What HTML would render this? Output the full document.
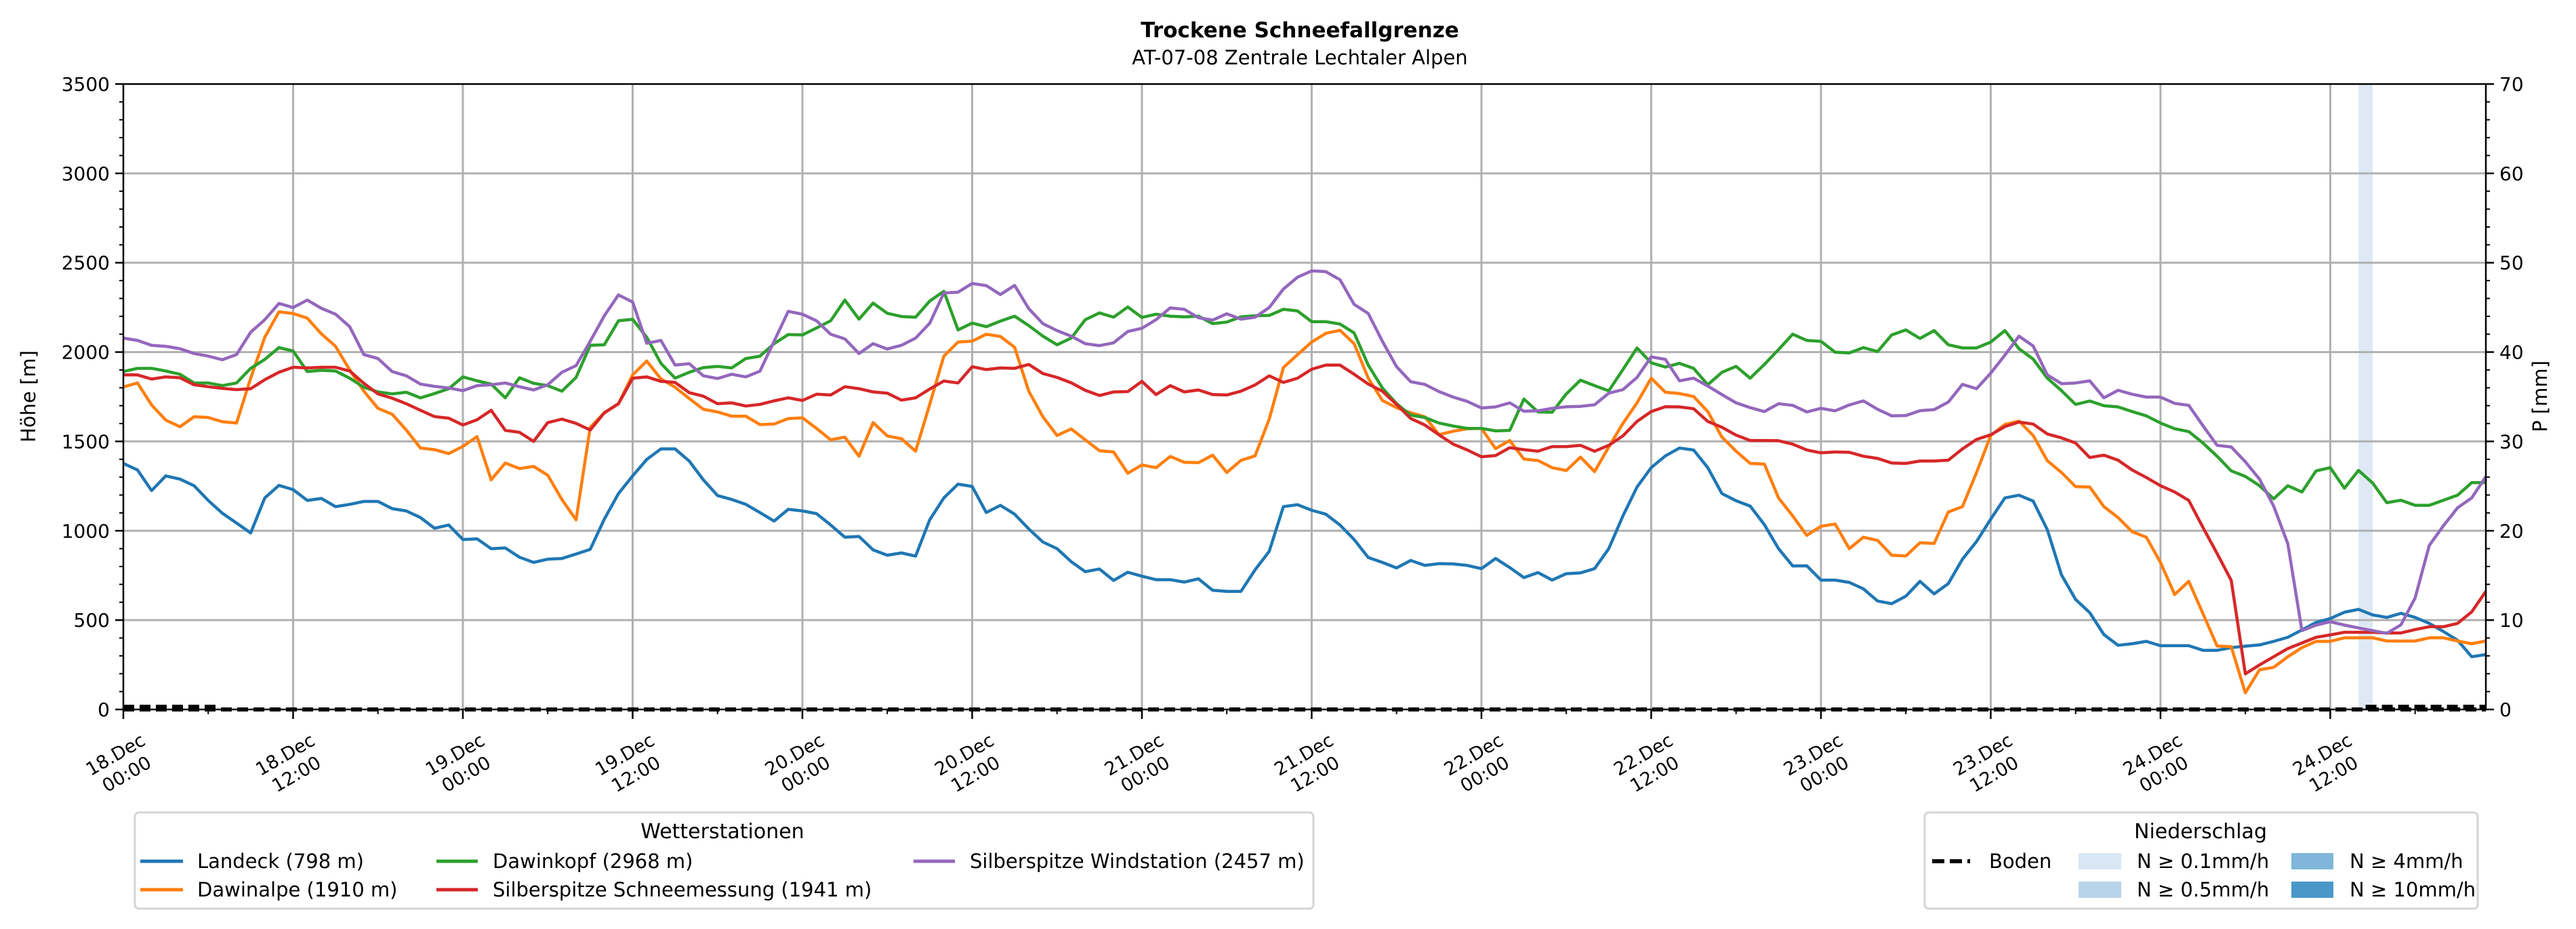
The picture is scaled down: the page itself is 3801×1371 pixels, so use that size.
<!DOCTYPE html>
<html><head><meta charset="utf-8"><style>
html,body{margin:0;padding:0;background:#fff}
svg{display:block;font-family:"DejaVu Sans","Liberation Sans",sans-serif}
</style></head><body>
<svg id="chart" width="3801" height="1371" viewBox="0 0 3801 1371" xmlns="http://www.w3.org/2000/svg">
<rect x="0" y="0" width="3801" height="1371" fill="#fff"/>
<text x="1918" y="55" text-anchor="middle" font-size="31" font-weight="bold">Trockene Schneefallgrenze</text>
<text x="1918" y="95" text-anchor="middle" font-size="29">AT-07-08 Zentrale Lechtaler Alpen</text>
<g id="precip"></g>
<g id="grid"></g>
<g id="series"></g>
<g id="boden"></g>
<g id="axes"></g>
<text transform="translate(52,585) rotate(-90)" text-anchor="middle" font-size="29">Höhe [m]</text>
<text transform="translate(3758,585) rotate(-90)" text-anchor="middle" font-size="29">P [mm]</text>

<g>
<rect x="199" y="1199" width="1739" height="142" rx="6" fill="#fff" stroke="#d5d5d5" stroke-width="3"/>
<text x="1066" y="1237" text-anchor="middle" font-size="30">Wetterstationen</text>
<g><line x1="207" y1="1271" x2="270" y2="1271" stroke="#1f77b4" stroke-width="5"/><text x="291" y="1281" font-size="29">Landeck (798 m)</text></g>
<g><line x1="207" y1="1313" x2="270" y2="1313" stroke="#ff7f0e" stroke-width="5"/><text x="291" y="1323" font-size="29">Dawinalpe (1910 m)</text></g>
<g><line x1="644" y1="1271" x2="705" y2="1271" stroke="#2ca02c" stroke-width="5"/><text x="727" y="1281" font-size="29">Dawinkopf (2968 m)</text></g>
<g><line x1="644" y1="1313" x2="705" y2="1313" stroke="#d62728" stroke-width="5"/><text x="727" y="1323" font-size="29">Silberspitze Schneemessung (1941 m)</text></g>
<g><line x1="1348" y1="1271" x2="1409" y2="1271" stroke="#9467bd" stroke-width="5"/><text x="1431" y="1281" font-size="29">Silberspitze Windstation (2457 m)</text></g>
</g>

<g>
<rect x="2840" y="1199" width="816" height="142" rx="6" fill="#fff" stroke="#d5d5d5" stroke-width="3"/>
<text x="3247" y="1237" text-anchor="middle" font-size="30">Niederschlag</text>
<g><line x1="2851" y1="1271" x2="2907" y2="1271" stroke="#000" stroke-width="6" stroke-dasharray="18,8"/><text x="2935" y="1281" font-size="29">Boden</text></g>
<g><rect x="3067" y="1259" width="63" height="24" fill="#d9e7f5"/><text x="3153" y="1281" font-size="29">N ≥ 0.1mm/h</text></g>
<g><rect x="3067" y="1301" width="63" height="24" fill="#b8d4ea"/><text x="3153" y="1323" font-size="29">N ≥ 0.5mm/h</text></g>
<g><rect x="3381" y="1259" width="62" height="24" fill="#7fb6d9"/><text x="3467" y="1281" font-size="29">N ≥ 4mm/h</text></g>
<g><rect x="3381" y="1301" width="62" height="24" fill="#4a98c9"/><text x="3467" y="1323" font-size="29">N ≥ 10mm/h</text></g>
</g>
</svg>
<script>
const landeck = [1377,1340,1225,1307,1289,1252,1170,1098,1043,988,1184,1254,1230,1170,1181,1135,1148,1164,1164,1124,1111,1074,1014,1032,951,955,900,904,852,823,841,845,870,896,1065,1208,1307,1399,1458,1458,1390,1285,
1197,1175,1148,1102,1054,1120,1111,1096,1032,964,968,893,863,876,858,1061,1184,1261,1248,1102,1142,1093,1010,937,900,827,771,786,722,768,746,726,726,713,731,667,661,661,781,885,1135,1146,
1115,1093,1032,951,850,823,792,834,806,816,814,806,788,845,794,738,766,724,760,764,788,900,1083,1245,1353,1419,1463,1452,1353,1208,1168,1138,1034,900,803,804,724,724,711,675,607,592,
634,717,647,704,841,940,1065,1184,1199,1166,1006,753,616,542,419,359,368,381,357,357,357,331,331,346,354,361,381,404,445,487,509,544,560,529,515,538,515,482,436,387,295,307];
const dawinalpe = [1805,1827,1704,1619,1582,1638,1634,1610,1603,1854,2083,2225,2216,2190,2102,2032,1900,1781,1685,1652,1564,1463,1454,1432,1472,1527,1285,1379,1348,1360,1311,1175,1061,1579,1660,1711,1872,1950,1850,1803,1740,1680,
1665,1641,1641,1594,1597,1628,1632,1573,1509,1524,1417,1605,1531,1515,1445,1707,1977,2056,2061,2100,2087,2027,1781,1638,1533,1570,1509,1448,1441,1322,1368,1353,1416,1383,1381,1423,1326,1394,1419,1625,1913,1986,
2056,2105,2122,2047,1854,1729,1689,1660,1638,1538,1557,1571,1573,1460,1505,1401,1393,1353,1337,1412,1331,1469,1601,1716,1854,1775,1768,1751,1667,1524,1445,1377,1373,1184,1083,974,1025,1038,900,964,946,863,
859,933,929,1105,1135,1326,1533,1595,1614,1533,1392,1326,1247,1245,1135,1074,995,964,823,643,717,537,355,351,93,222,236,295,346,381,381,401,401,401,383,383,383,401,401,383,368,383];
const dawinkopf = [1891,1909,1909,1894,1876,1827,1827,1812,1827,1909,1959,2025,2006,1891,1898,1894,1854,1803,1777,1766,1775,1744,1768,1795,1861,1839,1821,1744,1856,1825,1812,1781,1858,2038,2041,2175,2183,2083,1937,1854,1887,1913,
1920,1911,1964,1977,2047,2098,2096,2135,2175,2291,2184,2274,2217,2199,2195,2285,2340,2124,2162,2142,2173,2201,2148,2089,2041,2078,2181,2219,2195,2252,2194,2212,2201,2197,2201,2159,2168,2197,2203,2205,2239,2230,
2170,2170,2157,2107,1927,1799,1711,1647,1634,1603,1586,1573,1573,1559,1562,1737,1665,1663,1766,1843,1812,1783,1902,2023,1940,1916,1937,1909,1817,1887,1920,1854,1931,2014,2100,2065,2060,1999,1995,2025,2003,2096,
2124,2076,2120,2041,2023,2023,2056,2120,2019,1961,1854,1784,1707,1726,1700,1693,1667,1643,1603,1571,1555,1491,1417,1335,1304,1252,1179,1252,1217,1335,1353,1238,1338,1267,1157,1171,1142,1142,1171,1199,1269,1269];
const schnee = [1872,1872,1849,1861,1856,1817,1806,1797,1790,1795,1845,1887,1915,1911,1915,1915,1894,1825,1766,1742,1711,1674,1639,1630,1592,1621,1674,1562,1551,1500,1605,1625,1601,1564,1660,1711,1854,1861,1836,1830,1773,1753,
1711,1716,1698,1707,1727,1744,1729,1764,1760,1806,1795,1777,1770,1731,1744,1793,1838,1827,1918,1902,1911,1909,1931,1880,1858,1828,1786,1757,1777,1779,1836,1762,1812,1777,1788,1762,1760,1781,1816,1867,1830,1854,
1904,1927,1927,1876,1821,1781,1707,1628,1592,1537,1485,1452,1414,1421,1465,1454,1445,1471,1471,1478,1445,1478,1531,1612,1667,1694,1693,1683,1612,1579,1535,1505,1505,1504,1485,1452,1436,1441,1439,1417,1405,1379,
1377,1390,1390,1395,1458,1511,1537,1583,1608,1597,1542,1520,1491,1410,1423,1395,1340,1298,1252,1217,1170,1019,873,722,199,249,295,341,372,404,417,432,432,432,428,428,447,463,463,482,546,661];
const wind = [2078,2065,2038,2032,2019,1992,1977,1957,1986,2111,2181,2272,2249,2291,2245,2212,2142,1986,1964,1891,1867,1821,1808,1799,1784,1812,1817,1827,1806,1788,1817,1887,1924,2060,2203,2320,2280,2049,2065,1927,1935,1867,
1852,1876,1861,1893,2060,2228,2212,2175,2100,2074,1992,2047,2017,2038,2078,2161,2331,2335,2384,2372,2322,2373,2243,2159,2120,2089,2047,2036,2052,2115,2133,2181,2247,2239,2192,2179,2214,2184,2195,2249,2353,2419,
2454,2450,2405,2267,2216,2060,1918,1834,1819,1779,1748,1724,1687,1693,1716,1669,1671,1685,1694,1696,1705,1770,1790,1858,1973,1959,1839,1854,1810,1762,1716,1689,1667,1711,1702,1665,1685,1671,1704,1727,1680,1643,
1645,1672,1678,1720,1819,1795,1882,1983,2089,2034,1872,1823,1827,1839,1744,1786,1764,1748,1748,1713,1702,1588,1478,1469,1386,1289,1138,927,441,472,491,472,456,441,426,474,624,918,1028,1129,1184,1303];
const precipHours = [158];
const precipValues = [0.2];
const bodenSegments = [[0, 6.7, 0.3], [158.5, 167, 0.3]];
const yTicks = [0,500,1000,1500,2000,2500,3000,3500];
const y2Ticks = [0,10,20,30,40,50,60,70];
const xTickDays = ["18.Dec","18.Dec","19.Dec","19.Dec","20.Dec","20.Dec","21.Dec","21.Dec","22.Dec","22.Dec","23.Dec","23.Dec","24.Dec","24.Dec"];
const xTickTimes = ["00:00","12:00","00:00","12:00","00:00","12:00","00:00","12:00","00:00","12:00","00:00","12:00","00:00","12:00"];

const NS="http://www.w3.org/2000/svg";
const L=182,R=3668,T=124,B=1047,HMAX=167;
const xs=h=>L+(R-L)*h/HMAX;
const ys=v=>B-(B-T)*v/3500;
const yp=p=>B-(B-T)*p/70;
function mk(tag,attrs,parent){const e=document.createElementNS(NS,tag);for(const k in attrs)e.setAttribute(k,attrs[k]);parent.appendChild(e);return e;}

const gP=document.getElementById('precip');
precipHours.forEach((h,i)=>{
  const col=precipValues[i]>=10?'#4a98c9':precipValues[i]>=4?'#7fb6d9':precipValues[i]>=0.5?'#b8d4ea':'#dfe9f5';
  const r=mk('rect',{x:xs(h),y:T,width:xs(h+1)-xs(h),height:B-T,fill:col},gP);
  
  
});

const gG=document.getElementById('grid');
yTicks.forEach(v=>{ if(v>0&&v<3500) mk('line',{x1:L,x2:R,y1:ys(v),y2:ys(v),stroke:'#b0b0b0','stroke-width':3},gG);});
for(let i=0;i<xTickDays.length;i++){ const x=xs(i*12); if(i>0) mk('line',{x1:x,x2:x,y1:T,y2:B,stroke:'#b0b0b0','stroke-width':3},gG);}

const gS=document.getElementById('series');
const series=[[landeck,'#1f77b4','line-landeck'],[dawinalpe,'#ff7f0e','line-dawinalpe'],[dawinkopf,'#2ca02c','line-dawinkopf'],[schnee,'#d62728','line-silberspitze-schnee'],[wind,'#9467bd','line-silberspitze-wind']];
series.forEach(([arr,col,name])=>{
  const d=arr.map((v,i)=>(i?'L':'M')+xs(i).toFixed(1)+','+ys(v).toFixed(1)).join('');
  const p=mk('path',{d:d,fill:'none',stroke:col,'stroke-width':4.5,'stroke-linejoin':'round'},gS);
  
  
});

const gB=document.getElementById('boden');
let bd='M'+xs(0)+','+yp(0)+'L'+xs(HMAX)+','+yp(0);
bodenSegments.forEach(s=>{bd+='M'+xs(s[0])+','+yp(s[2])+'L'+xs(s[1])+','+yp(s[2]);});
const bp=mk('path',{d:bd,fill:'none',stroke:'#000','stroke-width':6,'stroke-dasharray':'16,8'},gB);



const gA=document.getElementById('axes');
mk('rect',{x:L,y:T,width:R-L,height:B-T,fill:'none',stroke:'#000','stroke-width':2.5},gA);
for(let v=0;v<=3500;v+=100){const big=v%500===0;mk('line',{x1:L,x2:L-(big?12:6),y1:ys(v),y2:ys(v),stroke:'#000','stroke-width':big?2.5:2},gA);}
yTicks.forEach(v=>{const t=mk('text',{x:L-20,y:ys(v)+10,'text-anchor':'end','font-size':28},gA);t.textContent=v;
  
  });
for(let p=0;p<=70;p+=2){const big=p%10===0;mk('line',{x1:R,x2:R+(big?12:6),y1:yp(p),y2:yp(p),stroke:'#000','stroke-width':big?2.5:2},gA);}
y2Ticks.forEach(p=>{const t=mk('text',{x:R+20,y:yp(p)+10,'font-size':28},gA);t.textContent=p;
  
  });
for(let h=0;h<=HMAX;h+=6){const big=h%12===0;mk('line',{x1:xs(h),x2:xs(h),y1:B,y2:B+(big?14:7),stroke:'#000','stroke-width':big?2.5:2},gA);}
for(let i=0;i<xTickDays.length;i++){
  const g=mk('g',{transform:'translate('+(xs(i*12)-4)+',1127) rotate(-30)'},gA);
  
  
  const t1=mk('text',{x:0,y:-6,'text-anchor':'middle','font-size':27},g);t1.textContent=xTickDays[i];
  const t2=mk('text',{x:0,y:27,'text-anchor':'middle','font-size':27},g);t2.textContent=xTickTimes[i];
}
</script>
</body></html>
